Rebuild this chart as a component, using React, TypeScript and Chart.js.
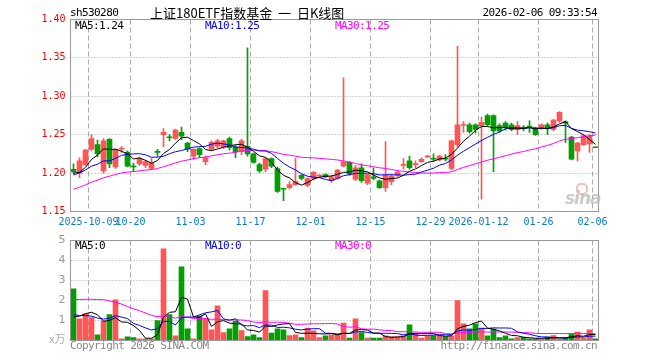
import React, { useEffect, useRef } from 'react';
import { Chart, registerables } from 'chart.js';
Chart.register(...registerables);

const dates = [
  '2025-09-26','2025-09-29','2025-09-30',
  '2025-10-09','2025-10-10','2025-10-13','2025-10-14','2025-10-15','2025-10-16','2025-10-17',
  '2025-10-20','2025-10-21','2025-10-22','2025-10-23','2025-10-24','2025-10-27','2025-10-28','2025-10-29','2025-10-30','2025-10-31',
  '2025-11-03','2025-11-04','2025-11-05','2025-11-06','2025-11-07','2025-11-10','2025-11-11','2025-11-12','2025-11-13','2025-11-14',
  '2025-11-17','2025-11-18','2025-11-19','2025-11-20','2025-11-21','2025-11-24','2025-11-25','2025-11-26','2025-11-27','2025-11-28',
  '2025-12-01','2025-12-02','2025-12-03','2025-12-04','2025-12-05','2025-12-08','2025-12-09','2025-12-10','2025-12-11','2025-12-12',
  '2025-12-15','2025-12-16','2025-12-17','2025-12-18','2025-12-19','2025-12-22','2025-12-23','2025-12-24','2025-12-25','2025-12-26',
  '2025-12-29','2025-12-30','2025-12-31',
  '2026-01-05','2026-01-06','2026-01-07','2026-01-08','2026-01-09','2026-01-12','2026-01-13','2026-01-14','2026-01-15','2026-01-16',
  '2026-01-19','2026-01-20','2026-01-21','2026-01-22','2026-01-23','2026-01-26','2026-01-27','2026-01-28','2026-01-29','2026-01-30',
  '2026-02-02','2026-02-03','2026-02-04','2026-02-05','2026-02-06',
];

const opens = [
  1.205,1.200,1.211,1.231,1.237,1.203,1.244,1.208,1.231,1.227,
  1.209,1.212,1.210,1.206,1.228,1.250,1.247,1.245,1.253,1.239,
  1.222,1.232,1.215,1.231,1.235,1.234,1.245,1.234,1.228,1.235,
  1.225,1.211,1.205,1.219,1.206,1.180,1.181,1.185,1.197,1.184,
  1.193,1.196,1.198,1.190,1.193,1.209,1.214,1.192,1.207,1.187,
  1.195,1.190,1.181,1.189,1.197,1.210,1.216,1.211,1.215,1.221,
  1.219,1.217,1.219,1.206,1.237,1.262,1.263,1.263,1.261,1.275,
  1.275,1.262,1.265,1.263,1.257,1.259,1.261,1.259,1.259,1.263,
  1.257,1.268,1.267,1.247,1.229,1.237,1.238,1.234,
];
const closes = [
  1.202,1.216,1.230,1.245,1.225,1.242,1.212,1.231,1.232,1.209,
  1.208,1.219,1.215,1.213,1.227,1.253,1.246,1.256,1.248,1.231,
  1.231,1.224,1.220,1.240,1.242,1.242,1.233,1.228,1.242,1.225,
  1.214,1.203,1.219,1.209,1.176,1.179,1.185,1.189,1.193,1.193,
  1.201,1.197,1.195,1.195,1.204,1.214,1.199,1.207,1.190,1.198,
  1.193,1.181,1.197,1.196,1.201,1.211,1.207,1.212,1.218,1.222,
  1.218,1.222,1.218,1.242,1.263,1.263,1.254,1.257,1.266,1.263,
  1.255,1.255,1.259,1.257,1.262,1.258,1.260,1.250,1.263,1.259,
  1.269,1.279,1.265,1.218,1.239,1.249,1.248,1.233,
];
const highs = [
  1.212,1.220,1.231,1.250,1.243,1.245,1.245,1.232,1.235,1.229,
  1.213,1.221,1.217,1.219,1.231,1.258,1.250,1.257,1.260,1.240,
  1.232,1.233,1.222,1.242,1.244,1.243,1.247,1.236,1.244,1.363,
  1.226,1.213,1.220,1.220,1.208,1.180,1.189,1.219,1.198,1.194,
  1.202,1.198,1.199,1.197,1.205,1.324,1.215,1.210,1.212,1.199,
  1.207,1.191,1.241,1.198,1.203,1.219,1.222,1.216,1.220,1.223,
  1.225,1.223,1.224,1.243,1.365,1.267,1.265,1.264,1.273,1.277,
  1.276,1.264,1.267,1.265,1.267,1.262,1.268,1.260,1.264,1.265,
  1.270,1.280,1.268,1.248,1.240,1.250,1.250,1.234,
];
const lows = [
  1.199,1.194,1.210,1.229,1.221,1.200,1.207,1.206,1.227,1.208,
  1.202,1.210,1.207,1.204,1.222,1.234,1.242,1.244,1.244,1.228,
  1.218,1.220,1.211,1.230,1.233,1.232,1.230,1.220,1.224,1.222,
  1.213,1.201,1.202,1.207,1.175,1.164,1.179,1.184,1.191,1.182,
  1.191,1.195,1.194,1.188,1.192,1.208,1.197,1.190,1.188,1.185,
  1.191,1.180,1.176,1.185,1.195,1.205,1.205,1.207,1.214,1.220,
  1.216,1.216,1.216,1.204,1.234,1.253,1.252,1.252,1.166,1.261,
  1.202,1.253,1.256,1.255,1.250,1.255,1.253,1.249,1.257,1.250,
  1.255,1.266,1.240,1.217,1.216,1.236,1.227,1.233,
];
// volume, in 万
const volumes = [
  2.58,1.08,1.33,1.15,0.28,0.97,1.29,2.03,0.08,0.18,
  0.15,0.08,0.08,0.08,1.00,4.58,1.30,0.23,3.68,0.58,
  0.08,1.23,1.10,0.53,1.73,0.39,0.58,0.97,0.49,0.20,
  0.28,0.15,2.50,0.37,0.58,0.53,0.25,0.28,0.15,0.62,
  0.48,0.15,0.23,0.28,0.28,0.87,0.12,1.08,0.40,0.12,
  0.12,0.12,0.23,0.20,0.20,0.23,0.78,0.37,0.12,0.25,
  0.25,0.25,0.20,0.23,2.00,0.83,0.58,0.83,0.62,0.23,
  0.57,0.15,0.23,0.08,0.15,0.17,0.08,0.08,0.08,0.17,
  0.25,0.08,0.12,0.32,0.42,0.12,0.53,0.08,
];
// estimated history before the window (needed for the moving averages)
const priorCloses = [
  1.135,1.138,1.142,1.145,1.148,1.150,
  1.165,1.172,1.178,1.185,1.188,1.190,1.192,
  1.186,1.180,1.176,1.178,1.182,1.184,1.179,
  1.188,1.192,1.196,1.199,1.200,
  1.211,1.198,1.193,1.196,
];
const priorVolumes = [
  1.1,0.9,1.2,0.8,1.0,
  3.2,4.1,2.8,3.9,3.5,2.9,3.5,
  3.8,2.9,3.5,2.8,
  1.9,1.4,1.8,1.5,
  1.6,1.3,1.5,1.2,1.5,
  0.9,0.7,0.8,0.92,
];

const tickDates = ['2025-10-09','2025-10-20','2025-11-03','2025-11-17','2025-12-01','2025-12-15','2025-12-29','2026-01-12','2026-01-26','2026-02-06'];
const tickLabels = ['2025-10-09','10-20','11-03','11-17','12-01','12-15','12-29','2026-01-12','01-26','02-06'];
const priceGrid = [1.20, 1.25, 1.30, 1.35];
const volGrid = [1, 2, 3, 4];
const mainLegend = ['MA5:1.24', 'MA10:1.25', 'MA30:1.25'];
const volLegend = ['MA5:0', 'MA10:0', 'MA30:0'];

const RED = '#ff5555';
const GREEN = '#00a000';
const MA_COLORS = ['#000000', '#0000ff', '#ff00ff'];
const MONO = "'DejaVu Sans Mono', 'Liberation Mono', monospace";

function movingAvg(prior: number[], vals: number[], n: number) {
  const all = prior.concat(vals);
  const p = prior.length;
  return vals.map((_, i) => {
    let s = 0;
    for (let k = p + i - n + 1; k <= p + i; k++) s += all[k];
    return s / n;
  });
}

function gridPlugin(yVals: number[]) {
  return {
    id: 'sinaGrid',
    beforeDatasetsDraw(chart: any) {
      const { ctx, chartArea: a, scales } = chart;
      const x = scales.x, y = scales.y;
      ctx.save();
      ctx.lineWidth = 1;
      ctx.strokeStyle = '#aaaaaa';
      ctx.setLineDash([1, 2]);
      yVals.forEach((v) => {
        const py = Math.round(y.getPixelForValue(v) - 0.5) + 0.5;
        ctx.beginPath(); ctx.moveTo(a.left, py); ctx.lineTo(a.right, py); ctx.stroke();
      });
      ctx.setLineDash([5, 3]);
      const w = x.getPixelForValue(1) - x.getPixelForValue(0);
      tickDates.forEach((d) => {
        const i = dates.indexOf(d);
        const px = Math.round(x.getPixelForValue(i) - w / 2 - 0.5) + 0.5;
        ctx.beginPath(); ctx.moveTo(px, a.top); ctx.lineTo(px, a.bottom); ctx.stroke();
      });
      ctx.restore();
    },
    afterDraw(chart: any) {
      const { ctx, chartArea: a } = chart;
      ctx.save();
      ctx.strokeStyle = '#999999';
      ctx.lineWidth = 1;
      ctx.setLineDash([]);
      ctx.strokeRect(a.left, a.top, a.right - a.left, a.bottom - a.top);
      ctx.restore();
    },
  };
}

function lineDs(data: number[], color: string) {
  return { type: 'line' as const, data, borderColor: color, borderWidth: 1, pointRadius: 0, fill: false, tension: 0, order: 0 };
}

function Txt(props: { x: number; y: number; text: string; color?: string; align?: 'left' | 'right'; size?: number; family?: string; ls?: number }) {
  const { x, y, text, color = '#000', align = 'left', size = 11, family = MONO, ls = -0.6 } = props;
  const style: React.CSSProperties = {
    position: 'absolute', top: y - 8, height: 16, lineHeight: '16px', fontSize: size,
    fontFamily: family, color, whiteSpace: 'pre', letterSpacing: ls,
  };
  if (align === 'left') style.left = x; else style.right = 660 - x;
  return <div style={style}>{text}</div>;
}

export default function App() {
  const mainRef = useRef<HTMLCanvasElement>(null);
  const volRef = useRef<HTMLCanvasElement>(null);

  useEffect(() => {
    const colors = closes.map((c, i) => (c >= opens[i] ? RED : GREEN));
    const pm5 = movingAvg(priorCloses, closes, 5);
    const pm10 = movingAvg(priorCloses, closes, 10);
    const pm30 = movingAvg(priorCloses, closes, 30);
    const vm5 = movingAvg(priorVolumes, volumes, 5);
    const vm10 = movingAvg(priorVolumes, volumes, 10);
    const vm30 = movingAvg(priorVolumes, volumes, 30);
    const tickFont = { family: MONO, size: 10 };

    const main = new Chart(mainRef.current!, {
      type: 'bar',
      data: {
        labels: dates,
        datasets: [
          lineDs(pm5, MA_COLORS[0]),
          lineDs(pm10, MA_COLORS[1]),
          lineDs(pm30, MA_COLORS[2]),
          {
            type: 'bar', data: opens.map((o, i) => [Math.min(o, closes[i]), Math.max(o, closes[i])]),
            backgroundColor: colors, borderWidth: 0, barThickness: 5, grouped: false, minBarLength: 1, order: 1,
          } as any,
          {
            type: 'bar', data: lows.map((l, i) => [l, highs[i]]),
            backgroundColor: colors, borderWidth: 0, barThickness: 1, grouped: false, order: 2,
          } as any,
        ],
      },
      options: {
        responsive: false, animation: false, events: [],
        layout: { padding: { left: 0, right: 61.5, top: 19.5, bottom: 0 } },
        plugins: { legend: { display: false }, tooltip: { enabled: false } },
        scales: {
          x: {
            type: 'category', offset: true,
            grid: { display: false, drawTicks: false }, border: { display: false },
            ticks: {
              autoSkip: false, maxRotation: 0, minRotation: 0, padding: 5, labelOffset: -3,
              color: '#0a78d0', font: tickFont,
              callback: (_v: any, idx: number) => {
                const k = tickDates.indexOf(dates[idx]);
                return k >= 0 ? tickLabels[k] : '';
              },
            },
            afterFit: (s: any) => { s.height = 16.5; },
          },
          y: {
            min: 1.15, max: 1.40,
            grid: { display: false, drawTicks: false }, border: { display: false },
            ticks: { stepSize: 0.05, color: '#ff0000', padding: 5, font: tickFont, callback: (v: any) => Number(v).toFixed(2) },
            afterFit: (s: any) => { s.width = 70.5; },
          },
        },
      } as any,
      plugins: [gridPlugin(priceGrid)],
    });

    const vol = new Chart(volRef.current!, {
      type: 'bar',
      data: {
        labels: dates,
        datasets: [
          lineDs(vm5, MA_COLORS[0]),
          lineDs(vm10, MA_COLORS[1]),
          lineDs(vm30, MA_COLORS[2]),
          {
            type: 'bar', data: volumes, backgroundColor: colors, borderWidth: 0,
            barThickness: 5, grouped: false, order: 1,
          } as any,
        ],
      },
      options: {
        responsive: false, animation: false, events: [],
        layout: { padding: { left: 0, right: 61.5, top: 12.5, bottom: 19.5 } },
        plugins: { legend: { display: false }, tooltip: { enabled: false } },
        scales: {
          x: { type: 'category', offset: true, display: false },
          y: {
            min: 0, max: 5,
            grid: { display: false, drawTicks: false }, border: { display: false },
            ticks: {
              stepSize: 1, color: '#999999', padding: 5,
              font: { family: "'DejaVu Sans', sans-serif", size: 11 },
              callback: (v: any) => (Number(v) === 0 ? '' : String(v)),
            },
            afterFit: (s: any) => { s.width = 70.5; },
          },
        },
      } as any,
      plugins: [gridPlugin(volGrid)],
    });

    return () => { main.destroy(); vol.destroy(); };
  }, []);

  return (
    <div style={{ position: 'fixed', left: 0, top: 0, width: 660, height: 360, background: '#fff', overflow: 'hidden' }}>
      <canvas ref={mainRef} width={660} height={228} style={{ position: 'absolute', left: 0, top: 0 }} />
      <canvas ref={volRef} width={660} height={132} style={{ position: 'absolute', left: 0, top: 228 }} />

      <Txt x={70} y={13} text="sh530280" />
      <Txt x={150} y={13} text="上证180ETF指数基金  一  日K线图" size={13} family="'Noto Sans CJK SC', sans-serif" ls={0} />
      <Txt x={597} y={13} text="2026-02-06 09:33:54" align="right" />

      <Txt x={75} y={26} text={mainLegend[0]} color={MA_COLORS[0]} />
      <Txt x={205} y={26} text={mainLegend[1]} color={MA_COLORS[1]} />
      <Txt x={335} y={26} text={mainLegend[2]} color={MA_COLORS[2]} />

      <Txt x={75} y={246} text={volLegend[0]} color={MA_COLORS[0]} />
      <Txt x={205} y={246} text={volLegend[1]} color={MA_COLORS[1]} />
      <Txt x={335} y={246} text={volLegend[2]} color={MA_COLORS[2]} />

      <Txt x={49} y={338} text="x万" color="#aaaaaa" size={11} family="'Noto Sans CJK SC', sans-serif" ls={0} />
      <Txt x={70} y={346} text="Copyright 2026 SINA.COM" color="#888888" />
      <Txt x={597} y={346} text="http://finance.sina.com.cn" color="#888888" align="right" />

      <div style={{ position: 'absolute', left: 576, top: 183, width: 8, height: 8, borderRadius: 5, border: '2px solid rgba(235,150,150,0.6)' }} />
      <div style={{ position: 'absolute', left: 565, top: 188, fontFamily: "'DejaVu Sans', sans-serif", fontWeight: 'bold', fontStyle: 'italic', fontSize: 17, color: 'rgba(185,185,185,0.75)', letterSpacing: -1 }}>sina</div>
    </div>
  );
}
